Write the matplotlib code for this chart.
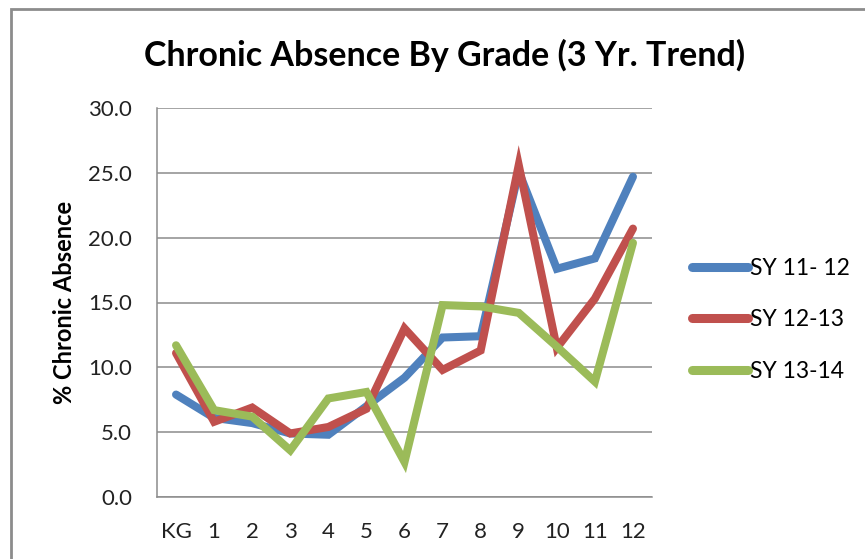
import matplotlib
matplotlib.use("Agg")
import matplotlib.pyplot as plt
from matplotlib.patches import Rectangle

grades = ["KG", "1", "2", "3", "4", "5", "6", "7", "8", "9", "10", "11", "12"]
sy_11_12 = [7.9, 6.1, 5.7, 4.9, 4.8, 7.0, 9.2, 12.3, 12.4, 25.1, 17.6, 18.4, 24.7]
sy_12_13 = [11.1, 5.8, 6.9, 4.9, 5.4, 6.8, 13.0, 9.8, 11.3, 25.6, 11.5, 15.3, 20.7]
sy_13_14 = [11.7, 6.7, 6.2, 3.6, 7.6, 8.1, 2.7, 14.8, 14.7, 14.2, 11.6, 8.9, 19.6]
series = ["SY 11- 12", "SY 12-13", "SY 13-14"]
colors = ["#4F81BD", "#C0504D", "#9BBB59"]

plt.rcParams['font.family'] = ['Lato', 'DejaVu Sans']

fig = plt.figure(figsize=(8.65, 5.59), dpi=100)
ax = fig.add_axes([157/865, 1-497/559, 495/865, 389/559])

x = range(len(grades))
for vals, name, c in zip([sy_11_12, sy_12_13, sy_13_14], series, colors):
    ax.plot(x, vals, color=c, linewidth=5.8, label=name, solid_capstyle='round', solid_joinstyle='miter')

ax.set_xlim(-0.5, len(grades) - 0.5)
ax.set_ylim(0, 30)
ax.set_yticks([0, 5, 10, 15, 20, 25, 30])
ax.set_yticklabels(["%.1f" % v for v in [0, 5, 10, 15, 20, 25, 30]])
ax.set_xticks(list(x))
ax.set_xticklabels(grades)
ax.tick_params(axis='both', length=0, labelsize=16, colors='#222222')
ax.tick_params(axis='x', pad=18)
ax.tick_params(axis='y', pad=18)
ax.grid(axis='y', color='#8c8c8c', linewidth=1.1)
ax.set_axisbelow(True)
for s in ['top', 'right']:
    ax.spines[s].set_visible(False)
for s in ['left', 'bottom']:
    ax.spines[s].set_color('#8c8c8c')
    ax.spines[s].set_linewidth(1.1)

ax.set_ylabel("% Chronic Absence", fontsize=17, fontweight='bold', labelpad=9)
fig.text(445/865, 1-55/559, "Chronic Absence By Grade (3 Yr. Trend)",
         fontsize=24.5, fontweight='bold', ha='center', va='center')

leg = ax.legend(loc='center left', bbox_to_anchor=(671/865, 1-320/559),
                bbox_transform=fig.transFigure, frameon=False, fontsize=16.5,
                handlelength=2.45, handletextpad=0.1, labelspacing=1.35)
for line in leg.get_lines():
    line.set_linewidth(6.5)

fig.patches.append(Rectangle((11/865, -0.1), 1.2, 1.1 - 9/559, transform=fig.transFigure,
                             fill=False, edgecolor='#8c8c8c', linewidth=2.0))

fig.savefig("out.png", dpi=100)
